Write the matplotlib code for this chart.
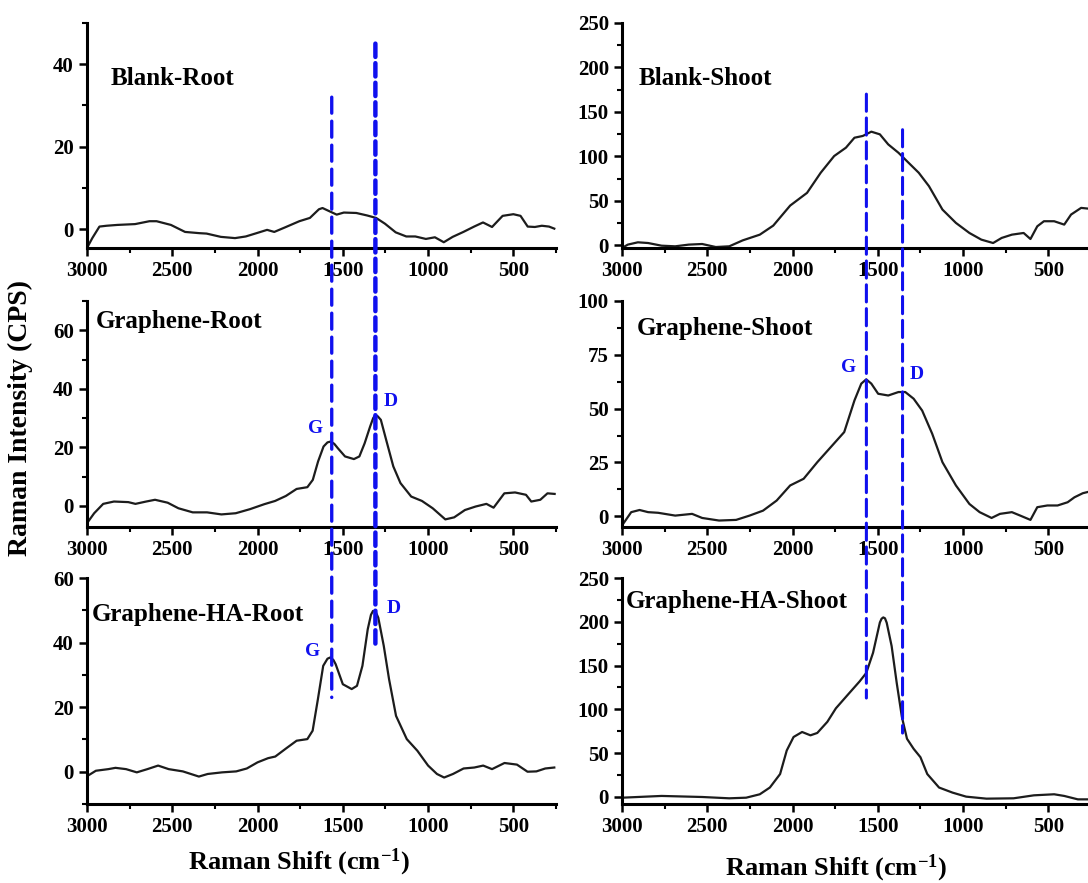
import matplotlib
matplotlib.use('Agg')
import matplotlib.pyplot as plt
from matplotlib.ticker import MultipleLocator
from matplotlib.patches import ConnectionPatch

plt.rcParams.update({
    'font.family': 'serif', 'font.serif': ['Liberation Serif', 'DejaVu Serif'],
    'font.weight': 'bold', 'mathtext.fontset': 'custom',
    'mathtext.rm': 'Liberation Serif:bold', 'mathtext.bf': 'Liberation Serif:bold',
    'mathtext.default': 'regular',
})

W, H = 1088, 883
LINE_C, DASH_C = '#1c1c1c', '#1010ee'
TICK_FS, TITLE_FS, LBL_FS, GD_FS = 15, 18, 19, 14

# ---- spectra (Raman shift cm-1, intensity CPS) ----
blank_root_x = [3000, 2969, 2927, 2885, 2822, 2718, 2634, 2592, 2508, 2425, 2341, 2299, 2215, 2132,
                2069, 2006, 1944, 1902, 1839, 1755, 1693, 1640, 1619, 1588, 1536, 1494, 1421, 1358,
                1305, 1253, 1190, 1128, 1075, 1013, 960, 908, 856, 793, 730, 678, 625, 563, 500,
                458, 416, 374, 333, 291, 260]
blank_root_y = [-4.6, -2.2, 0.6, 0.8, 1.0, 1.2, 1.9, 1.9, 1.0, -0.7, -1.0, -1.1, -1.9, -2.2,
                -1.8, -1.0, -0.2, -0.7, 0.4, 1.9, 2.7, 4.8, 5.1, 4.5, 3.5, 4.0, 3.9, 3.3,
                2.7, 1.3, -0.8, -1.8, -1.8, -2.4, -2.0, -3.2, -1.9, -0.7, 0.6, 1.6, 0.5, 3.2, 3.6,
                3.2, 0.6, 0.5, 0.8, 0.6, 0.1]

gr_root_x = [3000, 2958, 2905, 2842, 2758, 2716, 2653, 2601, 2527, 2464, 2380, 2296, 2212, 2128,
             2044, 1960, 1897, 1834, 1771, 1708, 1676, 1645, 1613, 1590, 1571, 1550, 1529, 1487,
             1435, 1403, 1372, 1340, 1322, 1309, 1295, 1277, 1246, 1204, 1162, 1099, 1036, 973,
             899, 847, 784, 721, 658, 616, 553, 490, 426, 395, 342, 300, 258]
gr_root_y = [-5.9, -2.5, 0.7, 1.5, 1.3, 0.7, 1.5, 2.1, 1.1, -0.8, -2.2, -2.2, -2.9, -2.5,
             -1.1, 0.6, 1.7, 3.4, 5.8, 6.4, 8.9, 15.2, 20.3, 21.7, 22.0, 21.2, 19.7, 16.9,
             16.0, 16.9, 21.4, 27.1, 30.0, 31.1, 30.6, 29.4, 22.6, 13.5, 7.8, 3.2, 1.7, -0.8,
             -4.6, -3.9, -1.4, -0.2, 0.7, -0.6, 4.3, 4.6, 3.8, 1.5, 2.1, 4.3, 4.1]

gr_ha_root_x = [3000, 2948, 2875, 2833, 2771, 2708, 2646, 2583, 2521, 2438, 2344, 2292, 2208, 2125,
                2063, 2000, 1938, 1896, 1833, 1771, 1708, 1677, 1646, 1615, 1590, 1573, 1555, 1542,
                1500, 1448, 1417, 1385, 1354, 1335, 1323, 1308, 1292, 1260, 1229, 1188, 1125, 1063,
                1000, 948, 906, 854, 792, 729, 677, 625, 552, 479, 417, 365, 313, 260]
gr_ha_root_y = [-1.4, 0.3, 0.8, 1.2, 0.8, -0.2, 0.8, 1.9, 0.8, 0.1, -1.5, -0.7, -0.2, 0.1,
                1.0, 2.9, 4.2, 4.7, 7.2, 9.6, 10.1, 12.7, 22.5, 32.8, 35.0, 35.4, 34.6, 33.3,
                27.1, 25.6, 26.6, 32.8, 44.1, 48.6, 49.8, 49.6, 47.7, 39.0, 28.7, 17.3, 10.1, 6.5,
                1.9, -0.7, -1.8, -0.7, 1.0, 1.3, 1.9, 0.8, 2.7, 2.2, 0.0, 0.1, 1.0, 1.3]

blank_shoot_x = [3000, 2966, 2907, 2847, 2768, 2688, 2609, 2530, 2450, 2371, 2292, 2192, 2113, 2014,
                 1915, 1835, 1756, 1687, 1637, 1588, 1538, 1488, 1439, 1379, 1320, 1260, 1200, 1121,
                 1042, 963, 893, 824, 774, 714, 645, 605, 565, 526, 466, 407, 367, 308, 252]
blank_shoot_y = [-3, 0.8, 3.4, 2.6, -0.4, -1.1, 0.8, 1.5, -1.9, -1.1, 5.6, 12.0, 22.2, 44.7,
                 59.0, 81.6, 100.4, 109.8, 121, 123, 127.8, 124.8, 113.5, 104.1, 92.9, 81.6, 66.5, 40.2,
                 25.2, 13.9, 6.4, 2.6, 8.3, 12.0, 13.9, 7.1, 21.4, 27.1, 27.1, 23.3, 34.6, 42.1, 41]

gr_shoot_x = [3000, 2946, 2897, 2847, 2788, 2688, 2589, 2530, 2431, 2331, 2252, 2173, 2093, 2014,
              1935, 1855, 1776, 1697, 1637, 1597, 1568, 1538, 1498, 1439, 1379, 1339, 1290, 1240,
              1181, 1121, 1042, 963, 903, 833, 784, 714, 665, 605, 565, 506, 446, 387, 347, 298, 252]
gr_shoot_y = [-4.3, 1.9, 2.9, 1.9, 1.6, 0.3, 1.1, -0.8, -2.0, -1.7, 0.3, 2.6, 7.3, 14.3,
              17.4, 25.1, 32.1, 39.1, 53.8, 61.6, 63.6, 61.6, 56.9, 56.1, 57.7, 57.7, 54.6, 49.1,
              38.3, 25.1, 14.3, 5.7, 1.9, -0.8, 1.1, 1.9, 0.3, -1.7, 4.2, 5.0, 5.0, 6.5, 8.8, 10.7, 11.6]

gr_ha_shoot_x = [3000, 2768, 2530, 2371, 2272, 2192, 2133, 2073, 2034, 1994, 1944, 1895, 1855, 1796,
                 1746, 1677, 1607, 1568, 1528, 1488, 1478, 1468, 1458, 1448, 1419, 1389, 1359, 1329,
                 1290, 1250, 1210, 1141, 1062, 982, 863, 704, 585, 466, 407, 327, 252]
gr_ha_shoot_y = [-0.8, 1.2, 0.0, -1.5, -0.8, 3.1, 10.8, 26.2, 53.1, 68.5, 74.2, 70.4, 73.1, 85.8,
                 101.2, 116.5, 131.9, 141.5, 164.6, 199.2, 203.5, 205, 204, 199, 172.3, 130, 91.5, 66.5,
                 55, 45.4, 26.2, 10.8, 5.0, 0.4, -1.9, -1.5, 1.9, 3.1, 1.2, -2.7, -2.7]

titles = ['Blank-Root', 'Graphene-Root', 'Graphene-HA-Root',
          'Blank-Shoot', 'Graphene-Shoot', 'Graphene-HA-Shoot']
ylims = [(-4.6, 50), (-7.2, 70), (-10, 60), (-3, 250), (-5, 100), (-8, 250)]
ysteps = [(20, 10), (20, 10), (20, 10), (50, 25), (25, 12.5), (50, 25)]

# peak marker positions (cm-1)
g_root, d_root = 1565, 1309
g_shoot, d_shoot = 1567, 1355

fig = plt.figure(figsize=(W / 100, H / 100), dpi=100)
rows = [(23, 248), (301, 527), (578, 804)]
cols = [87, 622]
axes = []
for c in cols:
    for top, bot in rows:
        axes.append(fig.add_axes([c / W, 1 - bot / H, 469 / W, (bot - top) / H]))

series = [(blank_root_x, blank_root_y), (gr_root_x, gr_root_y), (gr_ha_root_x, gr_ha_root_y),
          (blank_shoot_x, blank_shoot_y), (gr_shoot_x, gr_shoot_y), (gr_ha_shoot_x, gr_ha_shoot_y)]

for ax, (x, y), yl, (maj, mnr) in zip(axes, series, ylims, ysteps):
    ax.plot(x, y, color=LINE_C, lw=1.6, solid_joinstyle='round')
    ax.set_xlim(3000, 250)
    ax.set_ylim(*yl)
    ax.xaxis.set_major_locator(MultipleLocator(500))
    ax.xaxis.set_minor_locator(MultipleLocator(250))
    ax.yaxis.set_major_locator(MultipleLocator(maj))
    ax.yaxis.set_minor_locator(MultipleLocator(mnr))
    for s in ['top', 'right']:
        ax.spines[s].set_visible(False)
    for s in ['left', 'bottom']:
        ax.spines[s].set_linewidth(2.2)
    ax.tick_params(which='major', direction='out', length=6, width=1.8, labelsize=TICK_FS)
    ax.tick_params(which='minor', direction='out', length=3.5, width=1.5)
    for lab in ax.get_xticklabels() + ax.get_yticklabels():
        lab.set_fontweight('bold')
    ax.patch.set_alpha(0)

# panel titles (left edge px, baseline px)
title_pos = [(111, 85), (96, 328), (92, 621), (639, 85), (637, 335), (626, 608)]
for t, (px, py) in zip(titles, title_pos):
    fig.text(px / W, 1 - py / H, t, fontsize=TITLE_FS, fontweight='bold', va='baseline')

# G / D peak labels in data coordinates
gd = [(axes[1], 'G', 1706, 24.8), (axes[1], 'D', 1261, 34.1),
      (axes[2], 'G', 1724, 35.7), (axes[2], 'D', 1243, 49.2),
      (axes[4], 'G', 1715, 67.1), (axes[4], 'D', 1316, 63.9)]
for ax, s, xv, yv in gd:
    ax.text(xv, yv, s, color=DASH_C, fontsize=GD_FS, fontweight='bold', va='baseline', ha='left')

# dashed peak lines running across the stacked panels
dash_lines = [(axes[0], axes[2], g_root, 32, 23, 2.4, (0, (4.8, 2.4))),
              (axes[0], axes[2], d_root, 45, 39, 3.2, (0, (3.0, 1.4))),
              (axes[3], axes[5], g_shoot, 170, 113, 2.2, (0, (5.6, 2.2))),
              (axes[3], axes[5], d_shoot, 130, 73, 2.2, (0, (5.6, 2.2)))]
for a_top, a_bot, xv, yt, yb, lw, ls in dash_lines:
    cp = ConnectionPatch(xyA=(xv, yt), coordsA=a_top.transData, xyB=(xv, yb), coordsB=a_bot.transData,
                         color=DASH_C, lw=lw, linestyle=ls, zorder=10)
    fig.add_artist(cp)

fig.text(20 / W, 1 - 418 / H, 'Raman Intensity (CPS)', rotation=90, fontsize=20,
         fontweight='bold', ha='center', va='center')
fig.text(299 / W, 1 - 862 / H, r'Raman Shift (cm$^{-1}$)', fontsize=LBL_FS,
         fontweight='bold', ha='center', va='center')
fig.text(836 / W, 1 - 868 / H, r'Raman Shift (cm$^{-1}$)', fontsize=LBL_FS,
         fontweight='bold', ha='center', va='center')

fig.savefig('out.png', dpi=100)
